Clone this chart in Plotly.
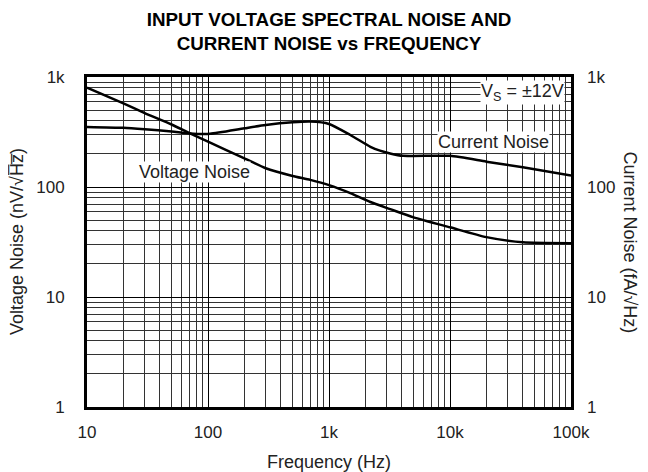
import plotly.graph_objects as go

freq_v = [10, 20, 30, 50, 71, 100, 200, 300, 500, 700, 1000, 1500, 2200, 3200, 5000, 10000, 20000, 40000, 100000]
voltage_noise = [800, 575, 470, 370, 307, 258, 182, 148, 126, 116, 104, 88, 73, 63, 53, 43, 35, 31.4, 30.8]

freq_i = [10, 20, 30, 50, 71, 104, 200, 300, 500, 700, 1000, 1500, 2200, 2640, 3200, 4100, 10000, 20000, 40000, 100000]
current_noise = [352, 345, 335, 320, 307, 305, 342, 366, 387, 393, 374, 297, 232, 214, 202, 192, 192, 170, 151, 127]

x_tickvals = [10, 100, 1000, 10000, 100000]
x_ticktext = ["10", "100", "1k", "10k", "100k"]
y_tickvals = [1, 10, 100, 1000]
y_ticktext = ["1", "10", "100", "1k"]

FONT = "Liberation Sans, Arial, Helvetica, sans-serif"
TXT = "#222222"
FS_TICK = 17
FS = 18

fig = go.Figure()
fig.add_trace(go.Scatter(x=freq_v, y=voltage_noise, mode="lines",
                         line=dict(color="black", width=2.5, shape="spline", smoothing=0.6),
                         showlegend=False))
fig.add_trace(go.Scatter(x=freq_i, y=current_noise, mode="lines", yaxis="y2",
                         line=dict(color="black", width=2.5, shape="spline", smoothing=0.6),
                         showlegend=False))

grid_common = dict(showgrid=True, gridcolor="black", gridwidth=1,
                   minor=dict(showgrid=True, gridcolor="#333333", gridwidth=1, dtick="D1"),
                   showline=True, linecolor="black", linewidth=3, mirror=True,
                   ticks="", zeroline=False,
                   tickfont=dict(size=FS_TICK, color=TXT))

fig.update_layout(
    width=640, height=464,
    paper_bgcolor="white", plot_bgcolor="white",
    font=dict(family=FONT, size=FS, color=TXT),
    margin=dict(l=79, r=77, t=69, b=65),
    title=dict(text="INPUT VOLTAGE SPECTRAL NOISE AND<br>CURRENT NOISE vs FREQUENCY",
               x=0.5, xref="paper", xanchor="center", yref="container", y=0.962, yanchor="top",
               pad=dict(t=0),
               font=dict(family=FONT, size=18.8, color="black", weight="bold")),
    xaxis=dict(type="log", range=[1, 5], tickvals=x_tickvals, ticktext=x_ticktext,
               ticklabelstandoff=8, **grid_common),
    yaxis=dict(type="log", range=[0, 3], tickvals=y_tickvals, ticktext=y_ticktext,
               ticklabelstandoff=16, **grid_common),
    yaxis2=dict(type="log", range=[0, 3], tickvals=y_tickvals, ticktext=y_ticktext,
                overlaying="y", side="right", showgrid=False, ticks="", zeroline=False,
                showline=False, ticklabelstandoff=15, tickfont=dict(size=FS_TICK, color=TXT)),
)

fig.add_annotation(x=1.89, y=2.14, xref="x", yref="y", text="Voltage Noise", showarrow=False,
                   bgcolor="white", font=dict(size=FS), borderpad=0)
fig.add_annotation(x=4.36, y=2.41, xref="x", yref="y", text="Current Noise", showarrow=False,
                   bgcolor="white", font=dict(size=FS), borderpad=0)
fig.add_annotation(x=4.60, y=2.855, xref="x", yref="y", text="V<sub>S</sub> = ±12V", showarrow=False,
                   bgcolor="white", font=dict(size=FS), borderpad=0)
fig.add_annotation(x=0.5, y=-0.203, xref="paper", yref="paper", text="Frequency (Hz)",
                   showarrow=False, font=dict(size=FS))
fig.add_annotation(x=-0.1446, y=0.5, xref="paper", yref="paper", text="Voltage Noise (nV/√H̅z̅)",
                   textangle=-90, showarrow=False, xanchor="center", yanchor="middle",
                   font=dict(size=FS))
fig.add_annotation(x=1.121, y=0.5, xref="paper", yref="paper", text="Current Noise (fA/√Hz)",
                   textangle=90, showarrow=False, xanchor="center", yanchor="middle",
                   font=dict(size=FS))

fig.write_html("out.html")
